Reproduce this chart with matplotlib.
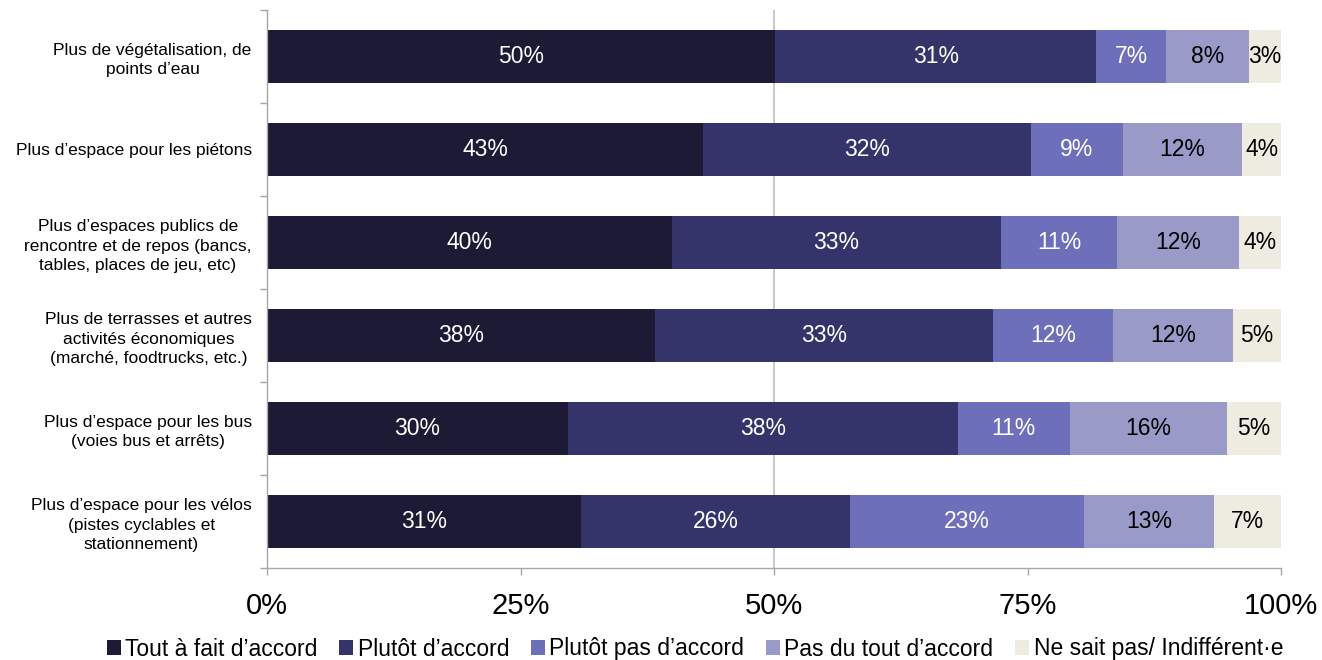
import numpy as np
import matplotlib
matplotlib.use("Agg")
import matplotlib.pyplot as plt
from matplotlib.ticker import FixedLocator, PercentFormatter

plt.rcParams['font.family'] = ['Liberation Sans', 'DejaVu Sans']

# Categories, top to bottom
categories = [
    "Plus de végétalisation, de\npoints d’eau",
    "Plus d’espace pour les piétons",
    "Plus d’espaces publics de\nrencontre et de repos (bancs,\ntables, places de jeu, etc)",
    "Plus de terrasses et autres\nactivités économiques\n(marché, foodtrucks, etc.)",
    "Plus d’espace pour les bus\n(voies bus et arrêts)",
    "Plus d’espace pour les vélos\n(pistes cyclables et\nstationnement)",
]

series_names = [
    "Tout à fait d’accord",
    "Plutôt d’accord",
    "Plutôt pas d’accord",
    "Pas du tout d’accord",
    "Ne sait pas/ Indifférent·e",
]

# Values in %
tout_a_fait = [50.1, 43.0, 39.9, 38.3, 29.7, 31.0]
plutot = [31.7, 32.3, 32.5, 33.3, 38.4, 26.5]
plutot_pas = [6.9, 9.1, 11.4, 11.8, 11.1, 23.1]
pas_du_tout = [8.1, 11.8, 12.1, 11.9, 15.5, 12.8]
ne_sait_pas = [3.2, 3.8, 4.1, 4.7, 5.3, 6.6]

# Printed labels
labels = [
    ["50%", "43%", "40%", "38%", "30%", "31%"],
    ["31%", "32%", "33%", "33%", "38%", "26%"],
    ["7%", "9%", "11%", "12%", "11%", "23%"],
    ["8%", "12%", "12%", "12%", "16%", "13%"],
    ["3%", "4%", "4%", "5%", "5%", "7%"],
]

colors = ["#1c1a35", "#35346a", "#6e6fba", "#9a9ac9", "#eeece1"]
text_colors = ["white", "white", "white", "black", "black"]

series = [tout_a_fait, plutot, plutot_pas, pas_du_tout, ne_sait_pas]

fig = plt.figure(figsize=(13.22, 6.6), dpi=100)
ax = fig.add_axes([267 / 1322, 1 - 568 / 660, (1281 - 267) / 1322, (568 - 10) / 660])

y = np.arange(len(categories))
left = np.zeros(len(categories))
ax.axvline(50, color="#bfbfbf", lw=1.2, zorder=0)
for vals, name, col, tcol, labs in zip(series, series_names, colors, text_colors, labels):
    vals = np.array(vals)
    ax.barh(y, vals, left=left, height=0.56, color=col, label=name, zorder=2)
    for yi, (l, v, t) in enumerate(zip(left, vals, labs)):
        ax.text(l + v / 2, yi, t, ha="center", va="center", color=tcol, fontsize=16.5, zorder=3)
    left += vals

ax.set_xlim(0, 100)
ax.set_ylim(len(categories) - 0.5, -0.5)
ax.set_yticks(y)
ax.set_yticklabels(categories, fontsize=12.5, multialignment="center", linespacing=1.35)
ax.yaxis.set_minor_locator(FixedLocator(np.arange(-0.5, len(categories), 1)))
ax.tick_params(axis="y", which="major", length=0, pad=11)
ax.tick_params(axis="y", which="minor", length=5, color="#a6a6a6", width=1)

ax.set_xticks([0, 25, 50, 75, 100])
ax.xaxis.set_major_formatter(PercentFormatter(decimals=0))
ax.tick_params(axis="x", length=5, color="#a6a6a6", width=1, labelsize=21, pad=12)

for s in ["top", "right"]:
    ax.spines[s].set_visible(False)
for s in ["left", "bottom"]:
    ax.spines[s].set_color("#a6a6a6")
    ax.spines[s].set_linewidth(1)

fig.legend(loc="center", bbox_to_anchor=(695 / 1322, 1 - 649 / 660), ncol=5, frameon=False,
           fontsize=16.5, handlelength=0.6, handleheight=0.6, handletextpad=0.2,
           columnspacing=0.95, borderpad=0)

fig.savefig("out.png", dpi=100)
